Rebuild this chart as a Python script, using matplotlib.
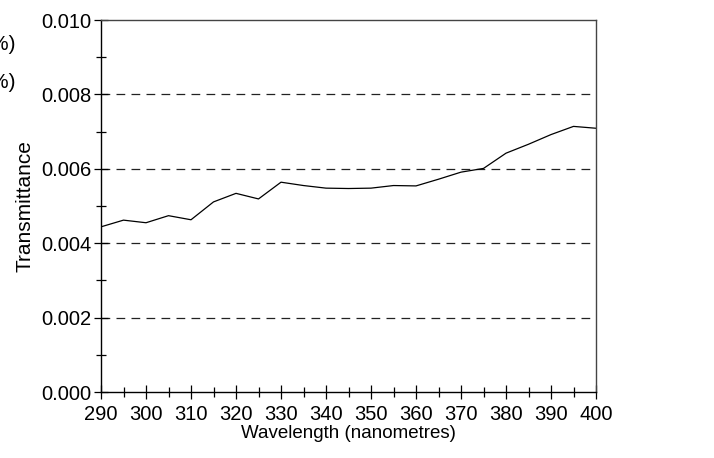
import matplotlib
matplotlib.use("Agg")
import matplotlib.pyplot as plt
from matplotlib.ticker import MultipleLocator, FormatStrFormatter

wavelength = [290, 295, 300, 305, 310, 315, 320, 325, 330, 335, 340, 345,
              350, 355, 360, 365, 370, 375, 380, 385, 390, 395, 400]
transmittance = [0.00444, 0.00462, 0.00455, 0.00474, 0.00463, 0.00511, 0.00534,
                 0.00519, 0.00564, 0.00555, 0.00548, 0.00547, 0.00548, 0.00555,
                 0.00554, 0.00572, 0.00591, 0.00601, 0.00642, 0.00666, 0.00692,
                 0.00714, 0.00709]
ylabel = "Transmittance"
xlabel = "Wavelength (nanometres)"

plt.rcParams['font.family'] = ['Liberation Sans', 'DejaVu Sans']
fig = plt.figure(figsize=(7.14, 4.58), dpi=100)
W, H = 714, 458
ax = fig.add_axes([101 / W, 1 - 392 / H, (596 - 101) / W, (392 - 20) / H])

ax.plot(wavelength, transmittance, color='black', lw=0.9)
ax.set_xlim(290, 400)
ax.set_ylim(0, 0.010)

for yv in [0.002, 0.004, 0.006, 0.008]:
    ax.axhline(yv, color='#222222', lw=0.9, dashes=(7, 5), zorder=0)

ax.xaxis.set_major_locator(MultipleLocator(10))
ax.xaxis.set_minor_locator(MultipleLocator(5))
ax.yaxis.set_major_locator(MultipleLocator(0.002))
ax.yaxis.set_minor_locator(MultipleLocator(0.001))
ax.yaxis.set_major_formatter(FormatStrFormatter('%.3f'))
ax.tick_params(which='major', direction='inout', length=10, width=0.9,
               labelsize=14.5, colors='black')
ax.tick_params(which='minor', direction='inout', length=7, width=0.9)
ax.tick_params(axis='x', which='major', pad=4.5)
ax.tick_params(axis='y', which='major', pad=2)
ax.tick_params(top=False, right=False, which='both')

for s in ['left', 'bottom']:
    ax.spines[s].set_color('black')
    ax.spines[s].set_linewidth(1.0)
for s in ['top', 'right']:
    ax.spines[s].set_color('#444444')
    ax.spines[s].set_linewidth(1.0)

ax.set_ylabel(ylabel, fontsize=15)
ax.set_xlabel(xlabel, fontsize=13.5)
ax.yaxis.set_label_coords(-66 / 495, 0.5)
ax.xaxis.set_label_coords(0.5, -(425 - 392) / 372)

fig.text(16 / W, 1 - 45 / H, "(%)", ha='right', va='center', fontsize=15)
fig.text(16 / W, 1 - 83 / H, "(%)", ha='right', va='center', fontsize=15)

fig.savefig("out.png", dpi=100)
